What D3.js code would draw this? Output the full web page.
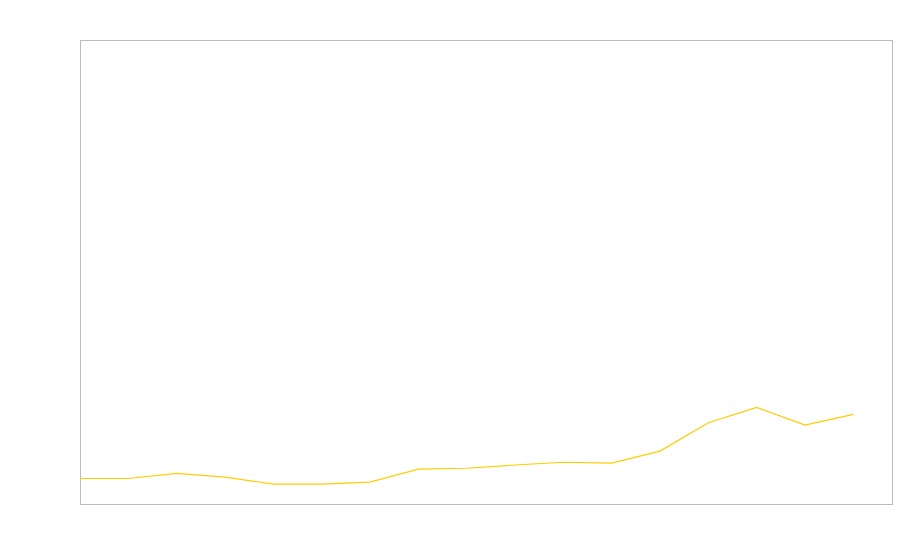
<!DOCTYPE html>
<html>
<head>
<meta charset="utf-8">
<script src="https://cdn.jsdelivr.net/npm/d3@7"></script>
<style>
  html, body { margin: 0; padding: 0; background: #fff; }
  svg { display: block; }
</style>
</head>
<body>
<svg id="chart" width="900" height="560"></svg>
<script>
// Data (17 evenly spaced points, no labels shown)
const steps = d3.range(17);
const values = [5.5, 5.5, 6.6, 5.8, 4.3, 4.3, 4.7, 7.5, 7.7, 8.4, 9.0, 8.8, 11.4, 17.5, 20.8, 17.0, 19.3];
const yDomain = [0, 100];

const WIDTH = 900;
const HEIGHT = 560;
const margin = { top: 40, right: 8, bottom: 56, left: 80 };

const svg = d3.select("#chart");

// x extends a little past the last point, like in the reference
const x = d3.scaleLinear()
  .domain([0, 16.8])
  .range([margin.left, WIDTH - margin.right]);

const y = d3.scaleLinear()
  .domain(yDomain)
  .range([HEIGHT - margin.bottom, margin.top]);

// plot frame
svg.append("rect")
  .attr("x", margin.left + 0.5)
  .attr("y", margin.top + 0.5)
  .attr("width", WIDTH - margin.left - margin.right)
  .attr("height", HEIGHT - margin.top - margin.bottom)
  .attr("fill", "none")
  .attr("stroke", "#bbbbbb")
  .attr("stroke-width", 1);

const line = d3.line()
  .x((d, i) => x(steps[i]))
  .y(d => y(d));

svg.append("path")
  .datum(values)
  .attr("fill", "none")
  .attr("stroke", "#ffcc00")
  .attr("stroke-width", 1.2)
  .attr("d", line);
</script>
</body>
</html>
